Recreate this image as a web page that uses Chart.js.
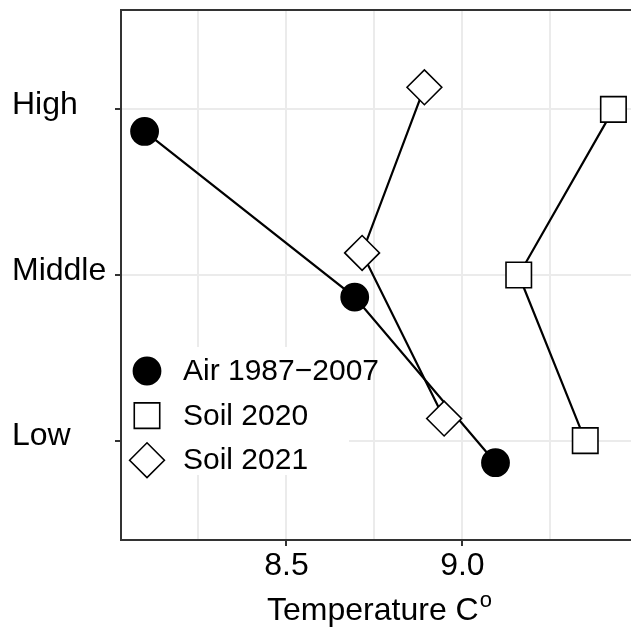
<!DOCTYPE html>
<html lang="en">
<head>
<meta charset="utf-8">
<title>Temperature by level</title>
<script src="https://cdn.jsdelivr.net/npm/chart.js@4.4.1/dist/chart.umd.min.js"></script>
<style>
  html, body { margin: 0; padding: 0; overflow: hidden; background: #fff; }
  #zone { width: 640px; height: 627px; }
</style>
</head>
<body>
<div id="zone"><canvas id="graphique" width="640" height="627"></canvas></div>
<script>
'use strict';

/* === DATA === */
const NIVEAUX = ['Low', 'Middle', 'High'];
const SERIES = ['Air 1987\u22122007', 'Soil 2020', 'Soil 2021'];
const AIR_1987_2007 = [9.094, 8.694, 8.097];
const SOIL_2020 = [9.349, 9.160, 9.429];
const SOIL_2021 = [8.948, 8.715, 8.892];
const X_LABELS = [8.5, 9.0];
const X_GRILLE = [8.25, 8.5, 8.75, 9.0, 9.25];

/* === STYLE === */
const POLICE = '"Liberation Sans", Arial, sans-serif';
const FORMES = ['circle', 'rect', 'rectRot'];
const RAYONS = [13.6, 18, 17.4];
const REMPLISSAGES = ['#000000', '#ffffff', '#ffffff'];
const LARGEUR_DODGE = 0.4;
const GRIS_GRILLE = '#ebebeb';
const GRIS_AXE = '#333333';

Chart.defaults.font.family = POLICE;

/* === HELPERS === */

// position_dodge : chaque série décalée autour du niveau
function versPoints(valeurs, i) {
  const decalage = (i - (SERIES.length - 1) / 2) * LARGEUR_DODGE / SERIES.length;
  return valeurs.map((v, j) => ({ x: v, y: j + 1 + decalage }));
}

// pas de marge automatique pour les étiquettes en bord d'axe
function sansMarges(s) {
  s.paddingTop = 0;
  s.paddingBottom = 0;
  s.paddingLeft = 0;
  s.paddingRight = 0;
}

const valeursParSerie = [AIR_1987_2007, SOIL_2020, SOIL_2021];

const jeuxLignes = valeursParSerie.map((v, i) => ({
  label: SERIES[i] + ' (ligne)',
  data: versPoints(v, i),
  showLine: true,
  borderColor: '#000000',
  borderWidth: 2.2,
  pointRadius: 0,
  pointHoverRadius: 0,
  order: 2
}));

const jeuxPoints = valeursParSerie.map((v, i) => ({
  label: SERIES[i],
  data: versPoints(v, i),
  showLine: false,
  pointStyle: FORMES[i],
  pointRadius: RAYONS[i],
  pointHoverRadius: RAYONS[i],
  pointBackgroundColor: REMPLISSAGES[i],
  pointBorderColor: '#000000',
  pointBorderWidth: 1.6,
  order: 1
}));

/* === PLUGINS === */

const pluginLegende = {
  id: 'legendeInterne',
  afterDatasetsDraw(chart) {
    const { ctx, chartArea: a } = chart;
    ctx.save();
    ctx.fillStyle = '#ffffff';
    ctx.fillRect(a.left + 1, 347, 227, 128);
    jeuxPoints.forEach((d, i) => {
      const y = 371 + i * 44.6;
      ctx.fillStyle = d.pointBackgroundColor;
      ctx.strokeStyle = d.pointBorderColor;
      ctx.lineWidth = d.pointBorderWidth;
      Chart.helpers.drawPoint(ctx, {
        pointStyle: d.pointStyle,
        radius: d.pointRadius,
        borderWidth: d.pointBorderWidth,
        rotation: 0
      }, 147, y);
      ctx.fillStyle = '#000000';
      ctx.font = '30px ' + POLICE;
      ctx.textBaseline = 'middle';
      ctx.textAlign = 'left';
      ctx.fillText(d.label, 183, y + 1);
    });
    ctx.restore();
  }
};

const pluginCadre = {
  id: 'cadre',
  afterDraw(chart) {
    const { ctx, chartArea: a } = chart;
    ctx.save();
    ctx.strokeStyle = GRIS_AXE;
    ctx.lineWidth = 2;
    ctx.strokeRect(a.left, a.top, a.right - a.left, a.bottom - a.top);

    // titre de l'axe x avec exposant
    const principal = 'Temperature C';
    const exposant = 'o';
    ctx.fillStyle = '#000000';
    ctx.textBaseline = 'alphabetic';
    ctx.textAlign = 'left';
    ctx.font = '32px ' + POLICE;
    const l1 = ctx.measureText(principal).width;
    ctx.font = '22px ' + POLICE;
    const l2 = ctx.measureText(exposant).width;
    const debut = (a.left + a.right) / 2 - (l1 + l2) / 2;
    ctx.font = '32px ' + POLICE;
    ctx.fillText(principal, debut, 620);
    ctx.font = '22px ' + POLICE;
    ctx.fillText(exposant, debut + l1 + 1, 607);
    ctx.restore();
  }
};

/* === CHART === */

new Chart(document.getElementById('graphique'), {
  type: 'scatter',
  data: { datasets: [...jeuxLignes, ...jeuxPoints] },
  options: {
    responsive: false,
    animation: false,
    events: [],
    layout: { autoPadding: false, padding: { left: 12, top: 10, right: 3, bottom: 0 } },
    plugins: {
      legend: { display: false },
      tooltip: { enabled: false }
    },
    scales: {
      x: {
        type: 'linear',
        min: 8.03,
        max: 9.496,
        afterBuildTicks: s => { s.ticks = X_GRILLE.map(v => ({ value: v })); },
        afterFit: s => { s.height = 87; sansMarges(s); },
        border: { display: false },
        grid: {
          color: GRIS_GRILLE,
          lineWidth: 2,
          tickLength: 6,
          tickWidth: 2,
          tickColor: c => X_LABELS.includes(c.tick.value) ? GRIS_AXE : 'rgba(0,0,0,0)'
        },
        ticks: {
          autoSkip: false,
          maxRotation: 0,
          padding: 1,
          color: '#000000',
          font: { size: 32 },
          callback: v => X_LABELS.includes(v) ? v.toFixed(1) : ''
        }
      },
      y: {
        type: 'linear',
        min: 0.4,
        max: 3.6,
        afterBuildTicks: s => { s.ticks = NIVEAUX.map((_, i) => ({ value: i + 1 })); },
        afterFit: s => { s.width = 109; sansMarges(s); },
        border: { display: false },
        grid: {
          color: GRIS_GRILLE,
          lineWidth: 2,
          tickLength: 6,
          tickWidth: 2,
          tickColor: GRIS_AXE
        },
        ticks: {
          crossAlign: 'far',
          labelOffset: -4,
          color: '#000000',
          font: { size: 32 },
          callback: v => NIVEAUX[v - 1]
        }
      }
    }
  },
  plugins: [pluginLegende, pluginCadre]
});
</script>
</body>
</html>
